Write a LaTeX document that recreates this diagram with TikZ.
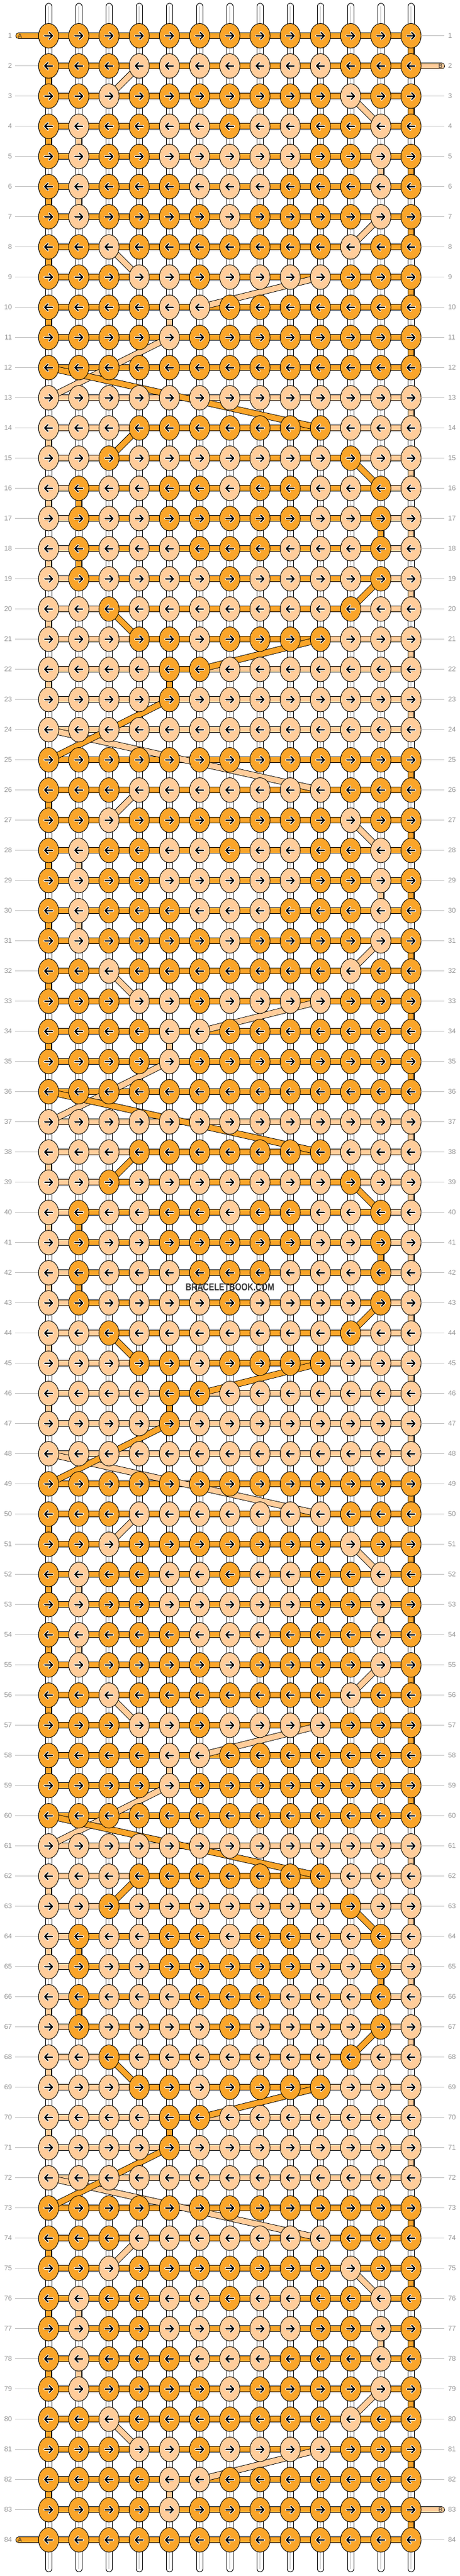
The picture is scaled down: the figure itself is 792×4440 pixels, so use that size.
\documentclass[tikz,border=0pt]{standalone}
\usepackage{fontspec}
\setmainfont{Liberation Sans}
\usepackage{graphicx}
\usetikzlibrary{shapes.geometric}
\definecolor{cA}{RGB}{250,165,42}
\definecolor{cB}{RGB}{255,205,155}
\definecolor{lblgray}{RGB}{150,150,150}
\definecolor{linegray}{RGB}{190,190,190}
\definecolor{warpgray}{RGB}{185,185,185}
\definecolor{wmgray}{RGB}{55,55,55}
\pgfdeclarelayer{warp}\pgfdeclarelayer{hor}\pgfdeclarelayer{con}
\pgfsetlayers{warp,hor,con,main}
\tikzset{
 knot/.style={ellipse, draw=black, line width=0.9pt, minimum width=34.8pt, minimum height=42.4pt, inner sep=0pt, outer sep=0pt},
 arrowpart/.style={line cap=round, line join=round},
 arR/.style={path picture={\begin{scope}[shift={(path picture bounding box.center)}]
   \draw[white, line width=4.2pt, arrowpart] (-6.6,0) -- (6.6,0) (1.2,-5.6) -- (6.6,0) -- (1.2,5.6);
   \draw[black, line width=2.2pt, arrowpart] (-6.6,0) -- (6.6,0) (1.2,-5.6) -- (6.6,0) -- (1.2,5.6);
 \end{scope}}},
 arL/.style={path picture={\begin{scope}[shift={(path picture bounding box.center)}]
   \draw[white, line width=4.2pt, arrowpart] (6.6,0) -- (-6.6,0) (-1.2,-5.6) -- (-6.6,0) -- (-1.2,5.6);
   \draw[black, line width=2.2pt, arrowpart] (6.6,0) -- (-6.6,0) (-1.2,-5.6) -- (-6.6,0) -- (-1.2,5.6);
 \end{scope}}},
 kn0R/.style={knot, fill=cA, arR}, kn0L/.style={knot, fill=cA, arL},
 kn1R/.style={knot, fill=cB, arR}, kn1L/.style={knot, fill=cB, arL},
 strA/.style={draw=black, line width=0.9pt, double=cA, double distance=9.4pt},
 strB/.style={draw=black, line width=0.9pt, double=cB, double distance=9.4pt},
 warpS/.style={draw=black, line width=0.9pt, double=white, double distance=9.8pt, line cap=round},
 warpC/.style={draw=warpgray, line width=1pt},
 rowlbl/.style={font=\fontsize{12}{12}\selectfont, text=lblgray, inner sep=0pt},
 rowline/.style={draw=linegray, line width=1pt},
 stublbl/.style={font=\fontsize{10.5}{10.5}\selectfont, text=black!80, inner sep=0pt},
 wmark/.style={font=\bfseries\fontsize{13.8}{14}\selectfont, text=wmgray, inner sep=0pt},
}
% base rows (0 = strand A, 1 = strand B); rows 13-24 are the inverse
\expandafter\def\csname br1\endcsname{0,0,0,0,0,0,0,0,0,0,0,0,0}
\expandafter\def\csname br2\endcsname{0,0,0,1,1,1,1,1,1,1,0,0,0}
\expandafter\def\csname br3\endcsname{0,0,1,0,0,0,0,0,0,0,1,0,0}
\expandafter\def\csname br4\endcsname{0,1,0,0,1,1,0,1,1,0,0,1,0}
\expandafter\def\csname br5\endcsname{0,1,0,0,1,1,1,1,1,0,0,1,0}
\expandafter\def\csname br6\endcsname{0,1,0,0,0,1,1,1,0,0,0,1,0}
\expandafter\def\csname br7\endcsname{0,1,0,0,0,0,1,0,0,0,0,1,0}
\expandafter\def\csname br8\endcsname{0,0,1,0,0,0,0,0,0,0,1,0,0}
\expandafter\def\csname br9\endcsname{0,0,0,1,1,0,1,1,1,1,0,0,0}
\expandafter\def\csname br10\endcsname{0,0,0,0,1,1,0,0,0,0,0,0,0}
\expandafter\def\csname br11\endcsname{0,0,0,0,1,0,0,0,0,0,0,0,0}
\expandafter\def\csname br12\endcsname{0,0,0,0,0,0,0,0,0,0,0,0,0}
% strand A horizontal spans (row in period / low col / high col)
\def\Aspans{1/1/13,2/1/13,3/1/13,4/1/13,5/1/13,6/1/13,7/1/13,8/1/13,9/1/13,10/1/13,11/1/13,12/1/13,14/4/10,15/3/11,16/2/12,17/2/12,18/2/12,19/2/12,20/3/11,21/4/10,22/5/6}
% strand A row-to-row connectors (row/col -> row/col)
\def\Acons{1/13/2/13,2/1/3/1,3/13/4/13,4/1/5/1,5/13/6/13,6/1/7/1,7/13/8/13,8/1/9/1,9/13/10/13,10/1/11/1,11/13/12/13,12/1/14/10,14/4/15/3,15/11/16/12,16/2/17/2,17/12/18/12,18/2/19/2,19/12/20/11,20/3/21/4,21/10/22/6,22/5/23/5,23/5/25/1}
\begin{document}
\begin{tikzpicture}[x=1pt,y=-1pt]
\useasboundingbox (0,0) rectangle (792,4440);
% knots
\foreach \blk in {0,1,2,3}{
 \foreach \hf in {0,1}{
  \foreach \q in {1,...,12}{
   \pgfmathtruncatemacro\rr{24*\blk+12*\hf+\q}
   \ifnum\rr<85
    \edef\thisrow{\csname br\q\endcsname}
    \ifodd\rr \def\dd{R}\else\def\dd{L}\fi
    \foreach \v [count=\c] in \thisrow {
      \pgfmathtruncatemacro\kc{abs(\v-\hf)}
      \node[kn\kc\dd] (k-\rr-\c) at ({83.7+52*(\c-1)},{61.7+52*(\rr-1)}) {};
    }
   \fi
  }}}
% background and warp strings
\begin{pgfonlayer}{warp}
 \fill[white] (0,0) rectangle (792,4440);
 \foreach \c in {1,...,13}{
  \coordinate (wt-\c) at ({83.7+52*(\c-1)},11);
  \coordinate (wb-\c) at ({83.7+52*(\c-1)},4427.5);
  \draw[warpS] (wt-\c) -- (wb-\c);
  \draw[warpC] (wt-\c) -- (wb-\c);
 }
\end{pgfonlayer}
% horizontal runs
\coordinate (sA1) at (32.3,61.7);
\coordinate (sA2) at (32.3,{61.7+52*83});
\coordinate (sB1) at (760.4,{61.7+52});
\coordinate (sB2) at (760.4,{61.7+52*82});
\begin{pgfonlayer}{hor}
 \draw[strB, line cap=round] (sB1) -- (k-2-10.center);
 \draw[strB, line cap=round] (k-83-5.center) -- (sB2);
 \foreach \o in {-12,12,36,60}{
  \foreach \a/\lo/\hi in \Aspans {
   \pgfmathtruncatemacro\ra{\a+\o}
   \ifnum\ra>0 \ifnum\ra<85
    \draw[strB] (k-\ra-\lo.center) -- (k-\ra-\hi.center);
   \fi\fi
  }}
 \draw[strA, line cap=round] (sA1) -- (k-1-1.center);
 \draw[strA, line cap=round] (k-84-1.center) -- (sA2);
 \foreach \o in {0,24,48,72}{
  \foreach \a/\lo/\hi in \Aspans {
   \pgfmathtruncatemacro\ra{\a+\o}
   \ifnum\ra>0 \ifnum\ra<85
    \draw[strA] (k-\ra-\lo.center) -- (k-\ra-\hi.center);
   \fi\fi
  }}
\end{pgfonlayer}
% connectors between rows
\begin{pgfonlayer}{con}
 \foreach \o in {-12,12,36,60}{
  \foreach \a/\ca/\b/\cb in \Acons {
   \pgfmathtruncatemacro\ra{\a+\o}
   \pgfmathtruncatemacro\rb{\b+\o}
   \ifnum\ra>0 \ifnum\rb<85
    \draw[strB] (k-\ra-\ca.center) -- (k-\rb-\cb.center);
   \fi\fi
  }}
 \foreach \o in {0,24,48,72}{
  \foreach \a/\ca/\b/\cb in \Acons {
   \pgfmathtruncatemacro\ra{\a+\o}
   \pgfmathtruncatemacro\rb{\b+\o}
   \ifnum\ra>0 \ifnum\rb<85
    \draw[strA] (k-\ra-\ca.center) -- (k-\rb-\cb.center);
   \fi\fi
  }}
\end{pgfonlayer}
% stub labels
\node[stublbl] (labA1) at (34.4,61.7) {A};
\node[stublbl] (labA2) at (34.4,{61.7+52*83}) {A};
\node[stublbl] (labB1) at (758.3,{61.7+52}) {B};
\node[stublbl] (labB2) at (758.3,{61.7+52*82}) {B};
% row numbers and guide lines
\foreach \r in {1,...,84}{
 \node[rowlbl, anchor=east] (ln-\r) at (20.8,{61.7+52*(\r-1)}) {\r};
 \node[rowlbl, anchor=west] (rn-\r) at (771.3,{61.7+52*(\r-1)}) {\r};
 \ifnum\r>1 \ifnum\r<84
  \coordinate (lc-\r) at (26,{61.7+52*(\r-1)});
  \draw[rowline] (lc-\r) -- (k-\r-1.west);
 \fi\fi
 \ifnum\r=2 \else\ifnum\r=83 \else
  \coordinate (rc-\r) at (765,{61.7+52*(\r-1)});
  \draw[rowline] (k-\r-13.east) -- (rc-\r);
 \fi\fi
}
% watermark
\node[wmark] (wm) at (396,2219) {\scalebox{1}[1.25]{BRACELETBOOK.COM}};
\end{tikzpicture}
\end{document}
